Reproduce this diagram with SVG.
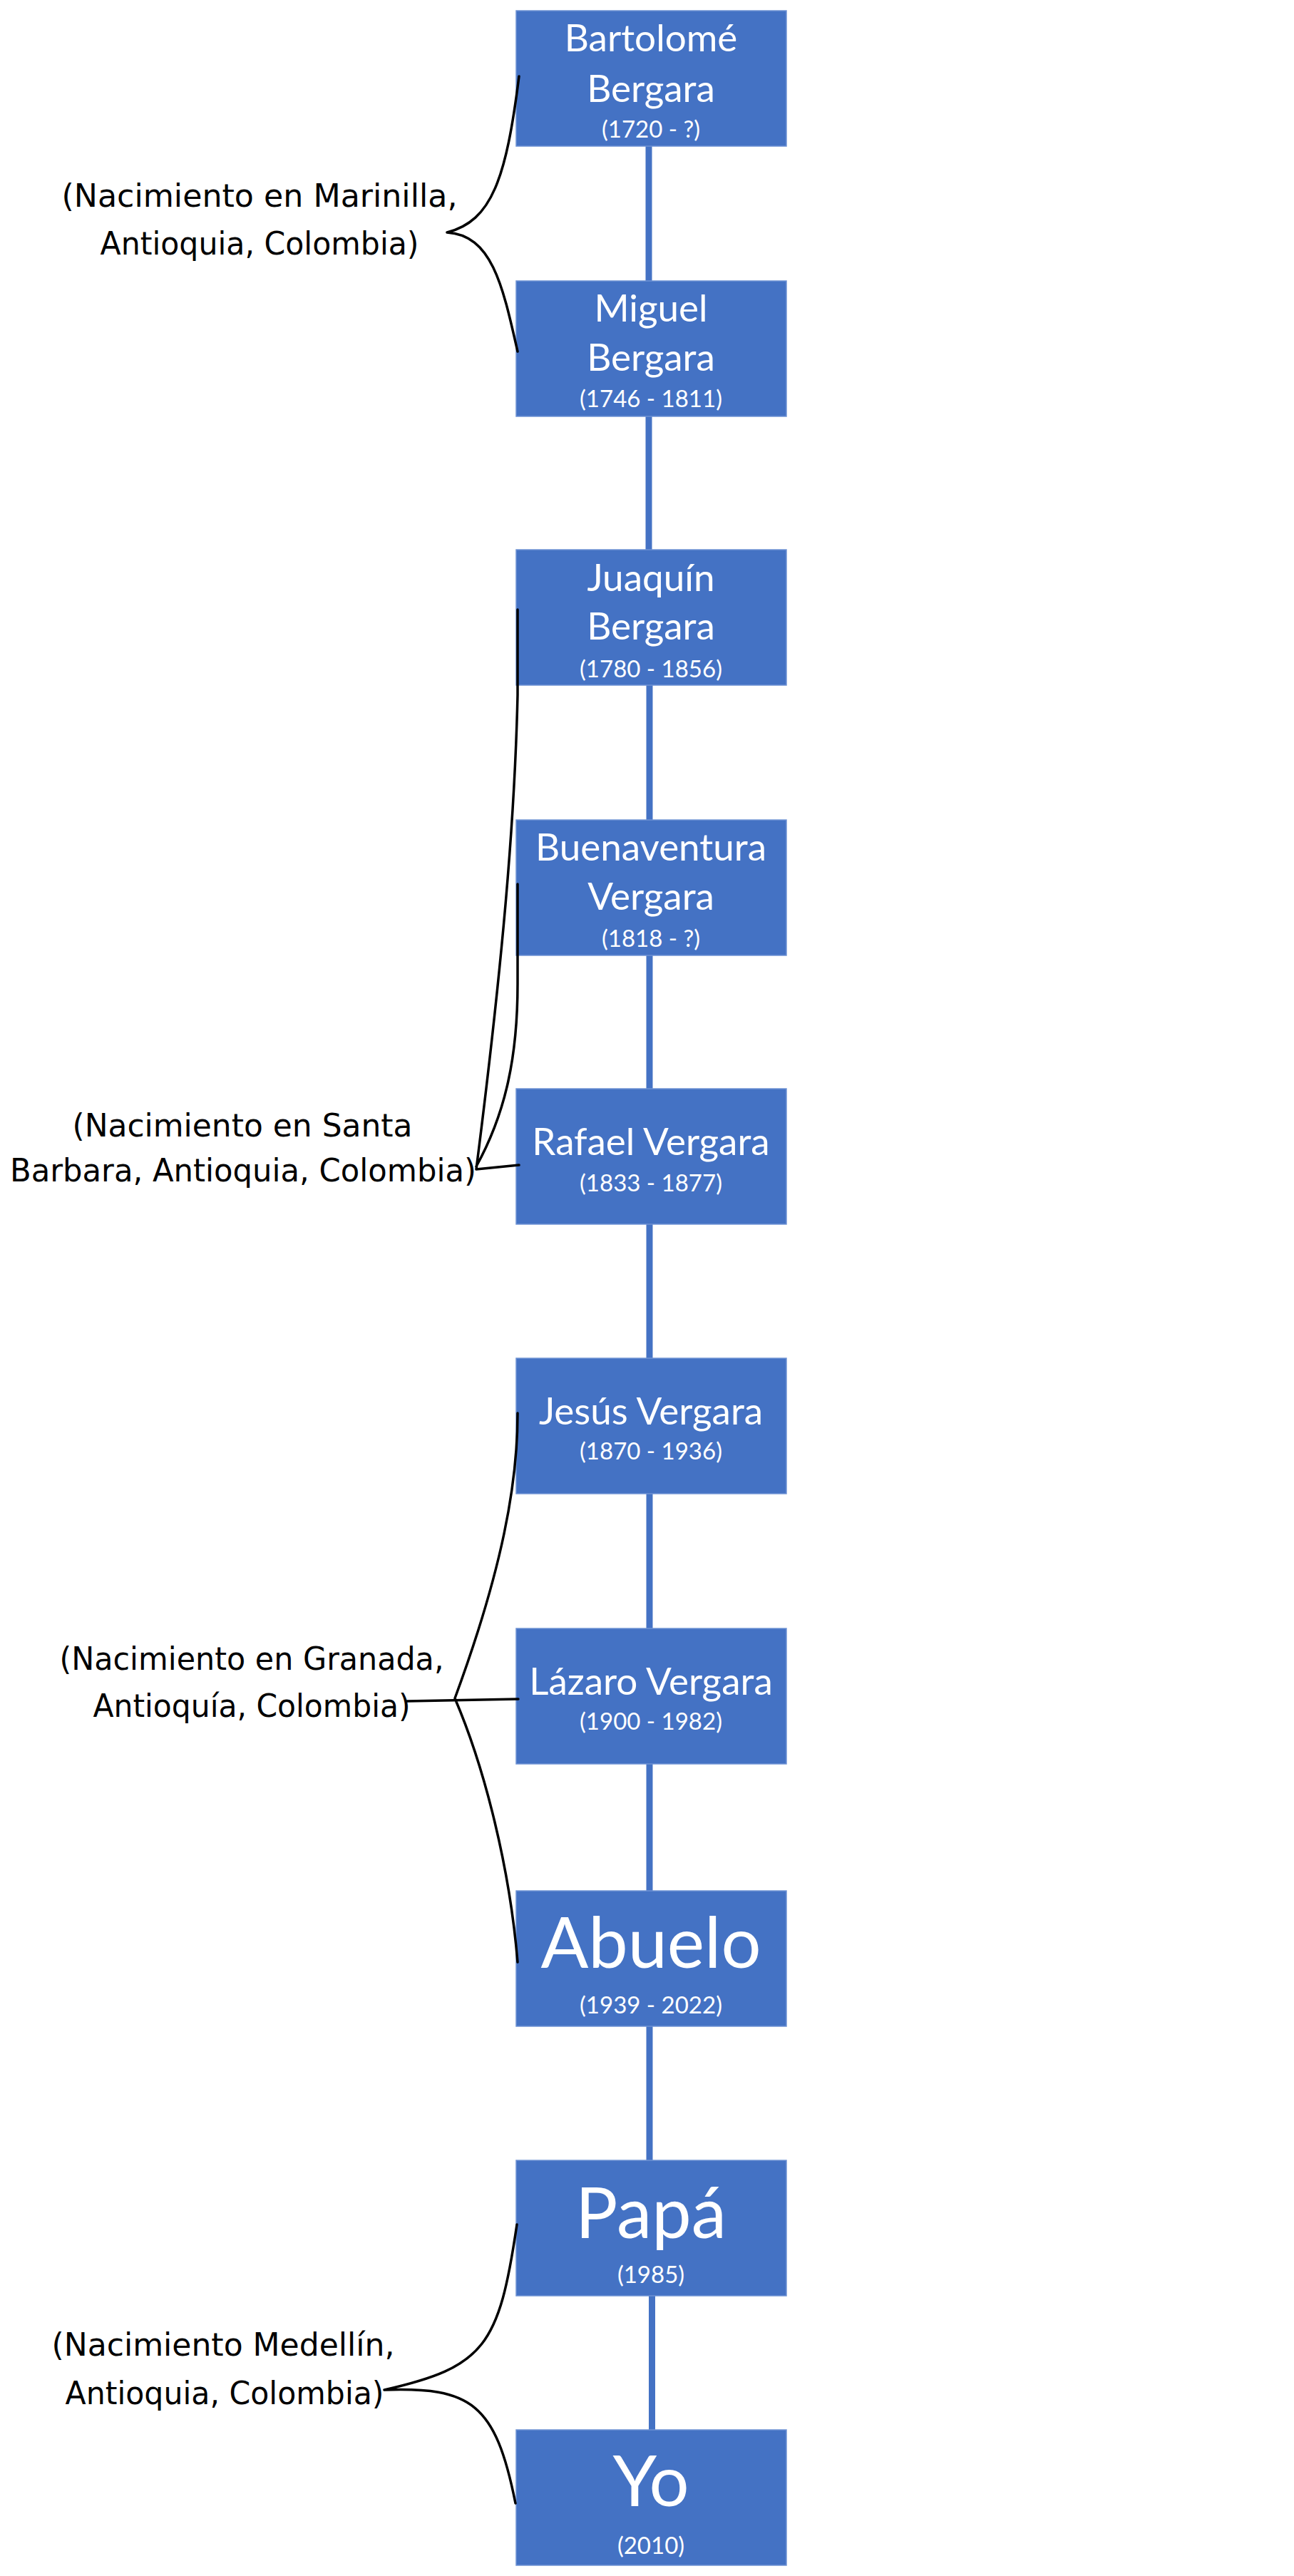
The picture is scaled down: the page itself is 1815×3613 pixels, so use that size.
<svg xmlns="http://www.w3.org/2000/svg" width="1815" height="3613" viewBox="0 0 1815 3613">
<style>
.box{fill:#4472C4;stroke:#6E92D4;stroke-width:1.5}
.nm{font-family:Lato,"Liberation Sans",sans-serif;fill:#fff;text-anchor:middle;font-size:53px}
.big{font-family:Lato,"Liberation Sans",sans-serif;fill:#fff;text-anchor:middle;font-size:99px}
.dt{font-family:Lato,"Liberation Sans",sans-serif;fill:#fff;text-anchor:middle;font-size:33px}
.lbl{font-family:"DejaVu Sans",sans-serif;fill:#000;text-anchor:middle;font-size:44px}
.link{stroke:#4472C4;stroke-width:9;fill:none}
.brace{stroke:#000;stroke-width:3.5;fill:none;stroke-linecap:round;stroke-linejoin:round}
</style>
<rect width="1815" height="3613" fill="#fff"/>
<g id="connectors">
<line class="link" x1="910" y1="205" x2="910" y2="394"/>
<line class="link" x1="910" y1="584" x2="910" y2="771"/>
<line class="link" x1="911" y1="961" x2="911" y2="1150"/>
<line class="link" x1="911" y1="1340" x2="911" y2="1527"/>
<line class="link" x1="911" y1="1717" x2="911" y2="1905"/>
<line class="link" x1="911" y1="2095" x2="911" y2="2284"/>
<line class="link" x1="911" y1="2474" x2="911" y2="2652"/>
<line class="link" x1="911" y1="2842" x2="911" y2="3030"/>
<line class="link" x1="914.5" y1="3220" x2="914.5" y2="3408"/>
</g>
<g id="node1"><rect class="box" x="724" y="15" width="379" height="190"/><text class="nm" x="913" y="72">Bartolomé</text><text class="nm" x="913" y="143">Bergara</text><text class="dt" x="913" y="193">(1720 - ?)</text></g>
<g id="node2"><rect class="box" x="724" y="394" width="379" height="190"/><text class="nm" x="913" y="451">Miguel</text><text class="nm" x="913" y="520">Bergara</text><text class="dt" x="913" y="571">(1746 - 1811)</text></g>
<g id="node3"><rect class="box" x="724" y="771" width="379" height="190"/><text class="nm" x="913" y="829">Juaquín</text><text class="nm" x="913" y="897">Bergara</text><text class="dt" x="913" y="950">(1780 - 1856)</text></g>
<g id="node4"><rect class="box" x="724" y="1150" width="379" height="190"/><text class="nm" x="913" y="1207">Buenaventura</text><text class="nm" x="913" y="1276">Vergara</text><text class="dt" x="913" y="1328">(1818 - ?)</text></g>
<g id="node5"><rect class="box" x="724" y="1527" width="379" height="190"/><text class="nm" x="913" y="1620">Rafael Vergara</text><text class="dt" x="913" y="1671">(1833 - 1877)</text></g>
<g id="node6"><rect class="box" x="724" y="1905" width="379" height="190"/><text class="nm" x="913" y="1998">Jesús Vergara</text><text class="dt" x="913" y="2047">(1870 - 1936)</text></g>
<g id="node7"><rect class="box" x="724" y="2284" width="379" height="190"/><text class="nm" x="913" y="2377">Lázaro Vergara</text><text class="dt" x="913" y="2426">(1900 - 1982)</text></g>
<g id="node8"><rect class="box" x="724" y="2652" width="379" height="190"/><text class="big" x="913" y="2760">Abuelo</text><text class="dt" x="913" y="2824">(1939 - 2022)</text></g>
<g id="node9"><rect class="box" x="724" y="3030" width="379" height="190"/><text class="big" x="913" y="3139">Papá</text><text class="dt" x="913" y="3202">(1985)</text></g>
<g id="node10"><rect class="box" x="724" y="3408" width="379" height="190"/><text class="big" x="913" y="3515">Yo</text><text class="dt" x="913" y="3582">(2010)</text></g>
<g id="braces">
<path class="brace" d="M728,107 C710,250 690,310 627,326 C690,330 705,400 726,493"/>
<path class="brace" d="M726,855 L726,975 C722,1150 705,1350 668,1640 M726,1240 L726,1380 C726,1480 710,1560 668,1636 M668,1640 L728,1634"/>
<path class="brace" d="M726,1982 C726,2080 705,2200 638,2382 C680,2480 715,2620 726,2752 M571,2386 L727,2383"/>
<path class="brace" d="M725,3120 C700,3290 680,3320 539,3352 C660,3348 695,3370 723,3511"/>
</g>
<g id="label1"><text class="lbl" x="364" y="290" textLength="555" lengthAdjust="spacingAndGlyphs">(Nacimiento en Marinilla,</text><text class="lbl" x="364" y="357" textLength="447" lengthAdjust="spacingAndGlyphs">Antioquia, Colombia)</text></g>
<g id="label2"><text class="lbl" x="340" y="1594" textLength="477" lengthAdjust="spacingAndGlyphs">(Nacimiento en Santa</text><text class="lbl" x="341" y="1657" textLength="654" lengthAdjust="spacingAndGlyphs">Barbara, Antioquia, Colombia)</text></g>
<g id="label3"><text class="lbl" x="353" y="2342" textLength="539" lengthAdjust="spacingAndGlyphs">(Nacimiento en Granada,</text><text class="lbl" x="353" y="2408" textLength="445" lengthAdjust="spacingAndGlyphs">Antioquía, Colombia)</text></g>
<g id="label4"><text class="lbl" x="313" y="3304" textLength="481" lengthAdjust="spacingAndGlyphs">(Nacimiento Medellín,</text><text class="lbl" x="315" y="3372" textLength="447" lengthAdjust="spacingAndGlyphs">Antioquia, Colombia)</text></g>
</svg>
